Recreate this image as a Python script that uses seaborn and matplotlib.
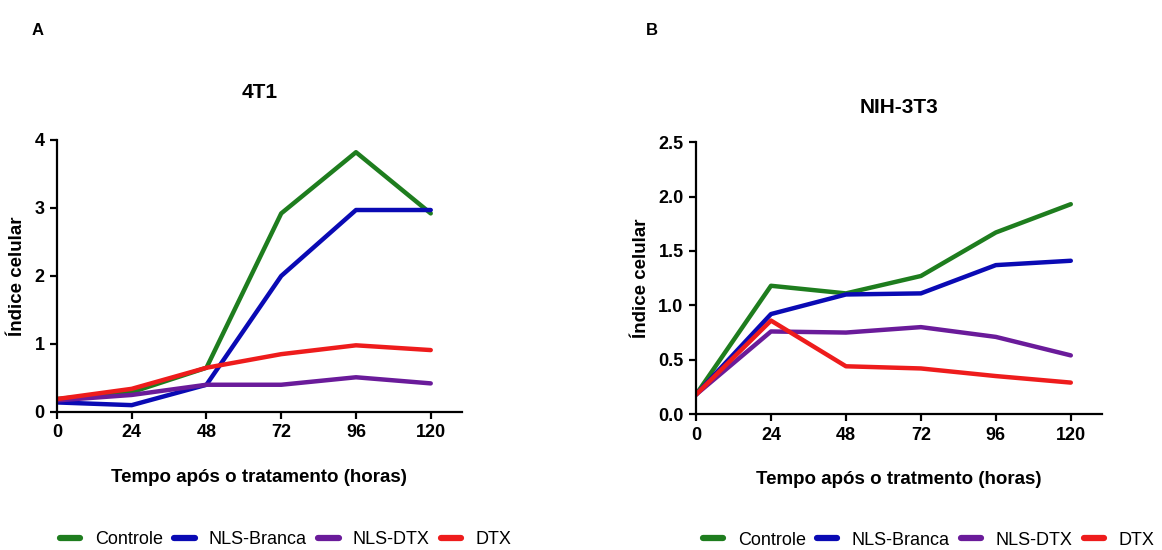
import numpy as np
import pandas as pd
import matplotlib
matplotlib.use("Agg")
import matplotlib.pyplot as plt
import seaborn as sns

# tempos (horas)
horas = [0, 24, 48, 72, 96, 120]
grupos = ['Controle', 'NLS-Branca', 'NLS-DTX', 'DTX']
cores = ['#1e7d1e', '#0a0ab4', '#6a1b9a', '#ee1c1c']

# 4T1
t1_controle = [0.19, 0.29, 0.65, 2.92, 3.82, 2.92]
t1_branca = [0.14, 0.10, 0.40, 2.00, 2.97, 2.97]
t1_nlsdtx = [0.17, 0.25, 0.40, 0.40, 0.51, 0.42]
t1_dtx = [0.19, 0.34, 0.65, 0.85, 0.98, 0.91]

# NIH-3T3
nih_controle = [0.18, 1.18, 1.11, 1.27, 1.67, 1.93]
nih_branca = [0.18, 0.92, 1.10, 1.11, 1.37, 1.41]
nih_nlsdtx = [0.18, 0.76, 0.75, 0.80, 0.71, 0.54]
nih_dtx = [0.18, 0.86, 0.44, 0.42, 0.35, 0.29]


def monta_df(series):
    linhas = []
    for g, vals in zip(grupos, series):
        for h, v in zip(horas, vals):
            linhas.append({'horas': h, 'indice': v, 'grupo': g})
    return pd.DataFrame(linhas)


df1 = monta_df([t1_controle, t1_branca, t1_nlsdtx, t1_dtx])
df2 = monta_df([nih_controle, nih_branca, nih_nlsdtx, nih_dtx])

sns.set_style("ticks")
plt.rcParams['font.family'] = ['Liberation Sans', 'DejaVu Sans']
plt.rcParams['axes.linewidth'] = 1.6
plt.rcParams['axes.edgecolor'] = 'black'
plt.rcParams['text.color'] = 'black'
plt.rcParams['axes.labelcolor'] = 'black'
plt.rcParams['xtick.color'] = 'black'
plt.rcParams['ytick.color'] = 'black'
plt.rcParams['xtick.major.width'] = 1.6
plt.rcParams['ytick.major.width'] = 1.6
plt.rcParams['xtick.major.size'] = 5
plt.rcParams['ytick.major.size'] = 5

fig = plt.figure(figsize=(11.62, 5.5), dpi=100)
ax1 = fig.add_axes([0.049, 0.251, 0.3485, 0.4945])
ax2 = fig.add_axes([0.599, 0.247, 0.3494, 0.4945])

painel = [
    (ax1, df1, '4T1', 'Tempo após o tratamento (horas)', [0, 1, 2, 3, 4], 4, '%d', 0.565, -0.47, 30),
    (ax2, df2, 'NIH-3T3', 'Tempo após o tratmento (horas)', [0, 0.5, 1.0, 1.5, 2.0, 2.5], 2.5, '%.1f', 0.573, -0.463, 21),
]

for ax, df, titulo, xlab, yt, ymax, fmt, lx, ly, tpad in painel:
    sns.lineplot(data=df, x='horas', y='indice', hue='grupo', hue_order=grupos,
                 palette=cores, linewidth=3.2, ax=ax)
    ax.set_xlim(0, 130)
    ax.set_ylim(0, ymax)
    ax.set_xticks(horas)
    ax.set_yticks(yt)
    ax.set_yticklabels([fmt % v for v in yt])
    ax.tick_params(labelsize=13, pad=4)
    for lab in ax.get_xticklabels() + ax.get_yticklabels():
        lab.set_fontweight('bold')
    ax.set_title(titulo, fontsize=15, fontweight='bold', pad=tpad)
    ax.set_xlabel(xlab, fontsize=13.5, fontweight='bold', labelpad=20)
    ax.set_ylabel('Índice celular', fontsize=13.5, fontweight='bold', labelpad=6)
    sns.despine(ax=ax)
    sns.move_legend(ax, 'center', bbox_to_anchor=(lx, ly), ncol=4, frameon=False,
                    title=None, fontsize=13, handlelength=1.15, columnspacing=0.6,
                    handletextpad=0.8)
    for ln in ax.get_legend().get_lines():
        ln.set_linewidth(4.5)

fig.text(0.032, 0.945, 'A', fontsize=12, fontweight='bold', ha='center', va='center')
fig.text(0.561, 0.945, 'B', fontsize=12, fontweight='bold', ha='center', va='center')

fig.savefig('out.png', dpi=100)
